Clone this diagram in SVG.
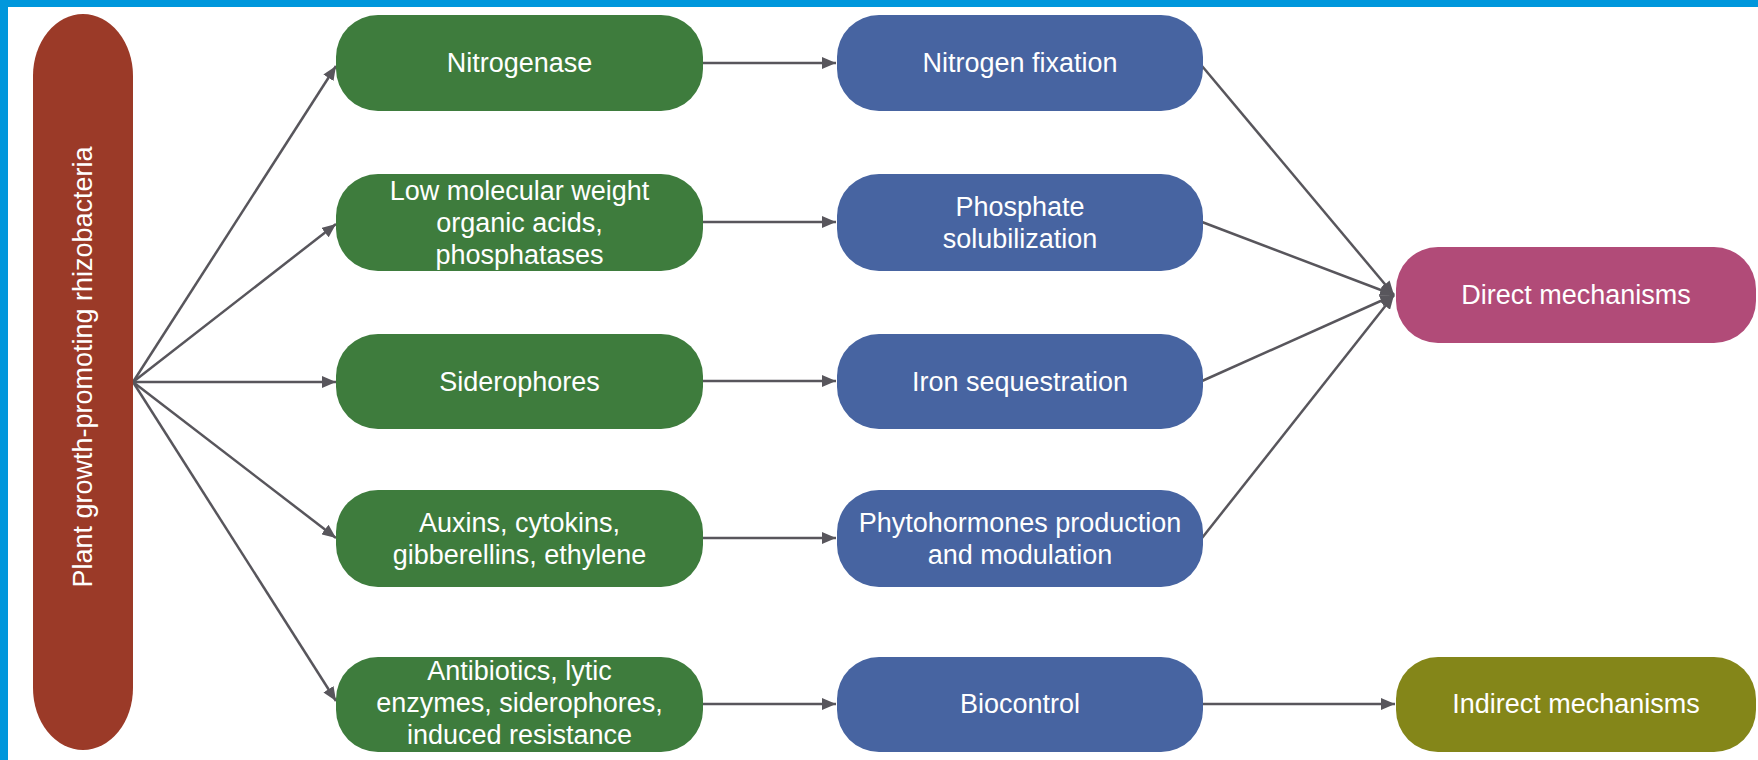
<svg xmlns="http://www.w3.org/2000/svg" width="1758" height="760" viewBox="0 0 1758 760">
  <defs>
    <marker id="arrow" viewBox="0 0 14 12" refX="14" refY="6" markerWidth="14" markerHeight="12" markerUnits="userSpaceOnUse" orient="auto">
      <path d="M0,0 L14,6 L0,12 Z" fill="#58565c"/>
    </marker>
  </defs>
  <style>
    .lbl { font-family: "Liberation Sans", Arial, sans-serif; font-size: 27px; fill: #ffffff; text-anchor: middle; }
    .green { fill: #3e7c3d; }
    .blue { fill: #4764a1; }
    .conn { stroke: #58565c; stroke-width: 2.5; fill: none; marker-end: url(#arrow); }
  </style>
  <rect x="0" y="0" width="1758" height="760" fill="#ffffff"/>
  <rect x="0" y="0" width="1758" height="7" fill="#0097dc"/>
  <rect x="0" y="0" width="8" height="760" fill="#0097dc"/>

  <g id="connectors">
    <line class="conn" x1="133" y1="382" x2="336" y2="66"/>
    <line class="conn" x1="133" y1="382" x2="336" y2="224"/>
    <line class="conn" x1="133" y1="382" x2="336" y2="382"/>
    <line class="conn" x1="133" y1="382" x2="336" y2="538"/>
    <line class="conn" x1="133" y1="382" x2="336" y2="701"/>
    <line class="conn" x1="703" y1="63" x2="836" y2="63"/>
    <line class="conn" x1="703" y1="222" x2="836" y2="222"/>
    <line class="conn" x1="703" y1="381" x2="836" y2="381"/>
    <line class="conn" x1="703" y1="538" x2="836" y2="538"/>
    <line class="conn" x1="703" y1="704" x2="836" y2="704"/>
    <line class="conn" x1="1202" y1="66" x2="1394" y2="295"/>
    <line class="conn" x1="1202" y1="222" x2="1394" y2="295"/>
    <line class="conn" x1="1202" y1="381" x2="1394" y2="295"/>
    <line class="conn" x1="1202" y1="538" x2="1394" y2="295"/>
    <line class="conn" x1="1202" y1="704" x2="1395" y2="704"/>
  </g>

  <g id="pgpr">
    <rect x="33" y="14" width="100" height="736" rx="50" ry="62" fill="#9b3a28"/>
    <text class="lbl" transform="translate(92,367) rotate(-90)" x="0" y="0">Plant growth-promoting rhizobacteria</text>
  </g>

  <g id="nitrogenase">
    <rect class="green" x="336" y="15" width="367" height="96" rx="42"/>
    <text class="lbl" x="519.5" y="72">Nitrogenase</text>
  </g>
  <g id="organic-acids">
    <rect class="green" x="336" y="174" width="367" height="97" rx="42"/>
    <text class="lbl" x="519.5" y="200">Low molecular weight</text>
    <text class="lbl" x="519.5" y="232">organic acids,</text>
    <text class="lbl" x="519.5" y="264">phosphatases</text>
  </g>
  <g id="siderophores">
    <rect class="green" x="336" y="334" width="367" height="95" rx="42"/>
    <text class="lbl" x="519.5" y="391">Siderophores</text>
  </g>
  <g id="auxins">
    <rect class="green" x="336" y="490" width="367" height="97" rx="42"/>
    <text class="lbl" x="519.5" y="532">Auxins, cytokins,</text>
    <text class="lbl" x="519.5" y="564">gibberellins, ethylene</text>
  </g>
  <g id="antibiotics">
    <rect class="green" x="336" y="657" width="367" height="95" rx="42"/>
    <text class="lbl" x="519.5" y="680">Antibiotics, lytic</text>
    <text class="lbl" x="519.5" y="712">enzymes, siderophores,</text>
    <text class="lbl" x="519.5" y="744">induced resistance</text>
  </g>

  <g id="nitrogen-fixation">
    <rect class="blue" x="837" y="15" width="366" height="96" rx="42"/>
    <text class="lbl" x="1020" y="72">Nitrogen fixation</text>
  </g>
  <g id="phosphate">
    <rect class="blue" x="837" y="174" width="366" height="97" rx="42"/>
    <text class="lbl" x="1020" y="216">Phosphate</text>
    <text class="lbl" x="1020" y="248">solubilization</text>
  </g>
  <g id="iron">
    <rect class="blue" x="837" y="334" width="366" height="95" rx="42"/>
    <text class="lbl" x="1020" y="391">Iron sequestration</text>
  </g>
  <g id="phytohormones">
    <rect class="blue" x="837" y="490" width="366" height="97" rx="42"/>
    <text class="lbl" x="1020" y="532">Phytohormones production</text>
    <text class="lbl" x="1020" y="564">and modulation</text>
  </g>
  <g id="biocontrol">
    <rect class="blue" x="837" y="657" width="366" height="95" rx="42"/>
    <text class="lbl" x="1020" y="713">Biocontrol</text>
  </g>

  <g id="direct">
    <rect x="1396" y="247" width="360" height="96" rx="42" fill="#b14b78"/>
    <text class="lbl" x="1576" y="304">Direct mechanisms</text>
  </g>
  <g id="indirect">
    <rect x="1396" y="657" width="360" height="95" rx="42" fill="#848619"/>
    <text class="lbl" x="1576" y="713">Indirect mechanisms</text>
  </g>
</svg>
